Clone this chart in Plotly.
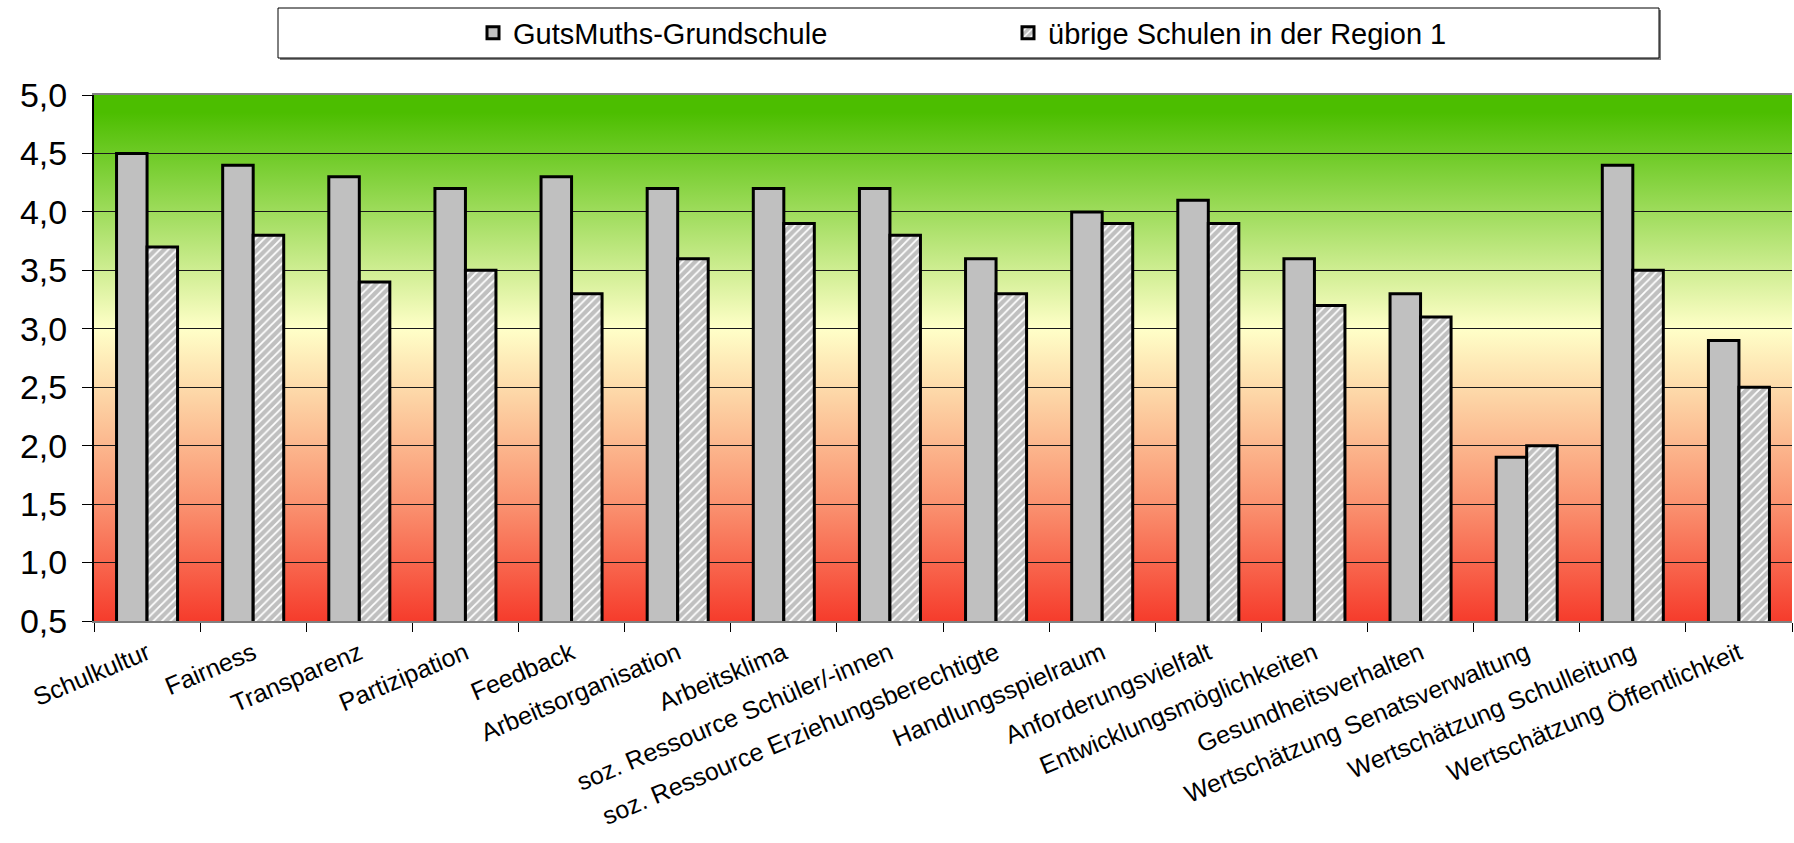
import base64
import plotly.graph_objects as go

categories = [
    "Schulkultur", "Fairness", "Transparenz", "Partizipation", "Feedback",
    "Arbeitsorganisation", "Arbeitsklima", "soz. Ressource Schüler/-innen",
    "soz. Ressource Erziehungsberechtigte", "Handlungsspielraum",
    "Anforderungsvielfalt", "Entwicklungsmöglichkeiten", "Gesundheitsverhalten",
    "Wertschätzung Senatsverwaltung", "Wertschätzung Schulleitung",
    "Wertschätzung Öffentlichkeit",
]
gutsmuths = [4.5, 4.4, 4.3, 4.2, 4.3, 4.2, 4.2, 4.2, 3.6, 4.0, 4.1, 3.6, 3.3, 1.9, 4.4, 2.9]
region1 = [3.7, 3.8, 3.4, 3.5, 3.3, 3.6, 3.9, 3.8, 3.3, 3.9, 3.9, 3.2, 3.1, 2.0, 3.5, 2.5]
series_names = ["GutsMuths-Grundschule", "übrige Schulen in der Region 1"]
y_ticks = [0.5, 1.0, 1.5, 2.0, 2.5, 3.0, 3.5, 4.0, 4.5, 5.0]

W, H = 1794, 843
ML, MR, MT, MB = 94, 2, 95, 222
PW, PH = W - ML - MR, H - MT - MB

FONT = "Liberation Sans, Arial, sans-serif"

fig = go.Figure()
fig.add_trace(go.Bar(
    x=categories, y=gutsmuths, name=series_names[0],
    marker=dict(color="#c0c0c0", line=dict(color="#000000", width=3)),
))
fig.add_trace(go.Bar(
    x=categories, y=region1, name=series_names[1],
    marker=dict(color="#c0c0c0", line=dict(color="#000000", width=3),
                pattern=dict(shape="/", fgcolor="#ffffff", bgcolor="#c0c0c0",
                             fgopacity=1, size=6, solidity=0.3)),
))

lo, hi = y_ticks[0], y_ticks[-1]

# smooth background gradient as an SVG image (green top -> pale yellow -> red bottom)
grad_stops = [(5.0, "#4cbe00"), (4.85, "#4cbe00"), (3.0, "#ffffc8"), (1.5, "#fa9270"), (0.5, "#f63c2c")]
stop_xml = "".join(
    "<stop offset='%.4f' stop-color='%s'/>" % ((hi - v) / (hi - lo), c) for v, c in grad_stops
)
svg = ("<svg xmlns='http://www.w3.org/2000/svg' width='100' height='100' viewBox='0 0 100 100' "
       "preserveAspectRatio='none'><defs><linearGradient id='g' x1='0' y1='0' x2='0' y2='1'>"
       + stop_xml +
       "</linearGradient></defs><rect x='0' y='0' width='100' height='100' fill='url(#g)'/></svg>")
svg_src = "data:image/svg+xml;base64," + base64.b64encode(svg.encode("utf-8")).decode("ascii")


def px2x(px):
    return (px - ML) / PW


def py2y(py):
    return (H - MB - py) / PH


shapes = [
    dict(type="rect", xref="paper", yref="paper",
         x0=px2x(280), x1=px2x(1661), y0=py2y(60), y1=py2y(10),
         fillcolor="#808080", line=dict(width=0), layer="above"),
    dict(type="rect", xref="paper", yref="paper",
         x0=px2x(278), x1=px2x(1659), y0=py2y(58), y1=py2y(8),
         fillcolor="#ffffff", line=dict(color="#000000", width=1), layer="above"),
]

fig.update_layout(
    width=W, height=H,
    margin=dict(l=ML, r=MR, t=MT, b=MB, pad=0, autoexpand=False),
    paper_bgcolor="#ffffff", plot_bgcolor="rgba(0,0,0,0)",
    separators=", ",
    barmode="group", bargap=0.425, bargroupgap=0,
    font=dict(family=FONT, color="#000000"),
    shapes=shapes,
    images=[dict(source=svg_src, xref="paper", yref="paper", x=0, y=1, sizex=1, sizey=1,
                 xanchor="left", yanchor="top", sizing="stretch", layer="below")],
    showlegend=True,
    legend=dict(orientation="h", x=px2x(473), xanchor="left", y=py2y(33), yanchor="middle",
                bgcolor="rgba(0,0,0,0)", borderwidth=0,
                font=dict(size=29, family=FONT, color="#000000"),
                entrywidth=490, traceorder="normal"),
    xaxis=dict(
        showgrid=False, showline=True, linecolor="#808080", linewidth=2, mirror=True,
        ticks="outside", tickson="boundaries", ticklen=9, tickcolor="#000000", tickwidth=1,
        tickangle=-23, ticklabelstandoff=6,
        tickfont=dict(size=25, family=FONT, color="#000000"),
        zeroline=False,
    ),
    yaxis=dict(
        range=[lo, hi], tickvals=y_ticks, tickformat=".1f",
        showgrid=True, gridcolor="#1a1a1a", gridwidth=1,
        showline=True, linecolor="#000000", linewidth=2,
        ticks="outside", ticklen=10, tickcolor="#000000", tickwidth=1,
        ticklabelstandoff=8,
        tickfont=dict(size=34, family=FONT, color="#000000"),
        zeroline=False,
    ),
)

fig.write_html(
    "out.html",
    config={"displayModeBar": False},
    post_script="document.body.style.margin='0';document.body.style.overflow='hidden';",
)
